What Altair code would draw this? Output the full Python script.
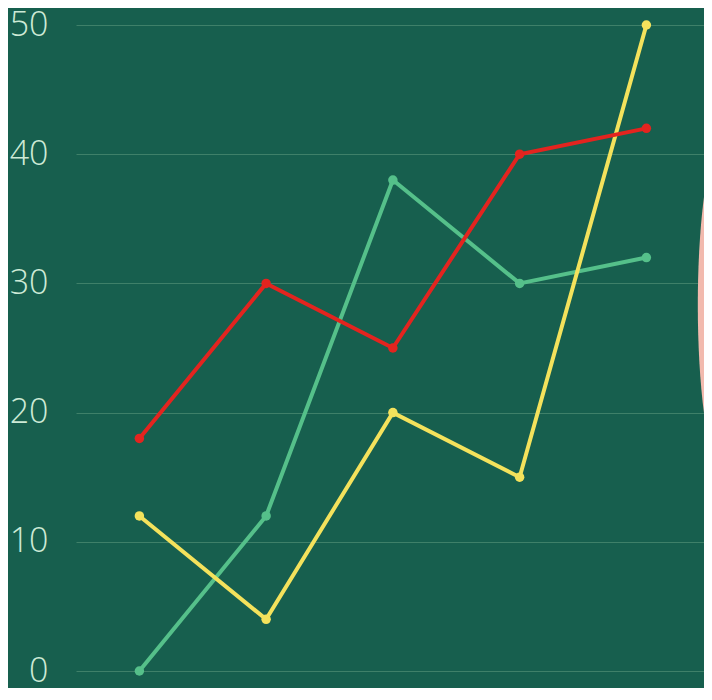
import altair as alt
import pandas as pd

categories = [1, 2, 3, 4, 5]
red = [18, 30, 25, 40, 42]
green = [0, 12, 38, 30, 32]
yellow = [12, 4, 20, 15, 50]
y_ticks = [0, 10, 20, 30, 40, 50]

rows = []
for name, vals in [("green", green), ("yellow", yellow), ("red", red)]:
    for c, v in zip(categories, vals):
        rows.append({"cat": c, "value": v, "series": name})
df = pd.DataFrame(rows)

colors = alt.Scale(domain=["green", "yellow", "red"],
                   range=["#55C08A", "#F4E25C", "#E3241F"])

x = alt.X("cat:Q", scale=alt.Scale(domain=[0.5, 5.4546], nice=False, zero=False), axis=None)
y = alt.Y("value:Q", scale=alt.Scale(domain=[0, 50], nice=False),
          axis=alt.Axis(values=y_ticks, title=None, domain=False, ticks=False,
                        labelPadding=28, labelFontSize=34, labelFont="Open Sans",
                        labelFontWeight=300, labelColor="#CDEAD6",
                        grid=True, gridColor="#3F8069", gridWidth=1))

base = alt.Chart(df)
lines = base.mark_line(strokeWidth=4).encode(
    x=x, y=y, color=alt.Color("series:N", scale=colors, legend=None),
    detail="series:N")
points = base.mark_circle(size=90, opacity=1).encode(
    x=x, y=y, color=alt.Color("series:N", scale=colors, legend=None))

deco = alt.Chart(pd.DataFrame({"d": [0]})).mark_point(
    shape="M 0 -1 A 0.16 1 0 1 1 0 1 A 0.16 1 0 1 1 0 -1 Z",
    filled=True, fill="#F2BAAE", stroke=None, opacity=1, size=115600).encode(
    x=alt.value(649), y=alt.value(280))

chart = alt.layer(deco, lines, points).properties(
    width=628, height=646,
    autosize=alt.AutoSizeParams(type="none"),
    padding={"left": 68, "top": 17, "right": 0, "bottom": 17},
    background="#175F4E",
).configure_view(stroke=None, fill="#175F4E")

chart.save("out.html", embed_options={"renderer": "svg", "actions": False})
